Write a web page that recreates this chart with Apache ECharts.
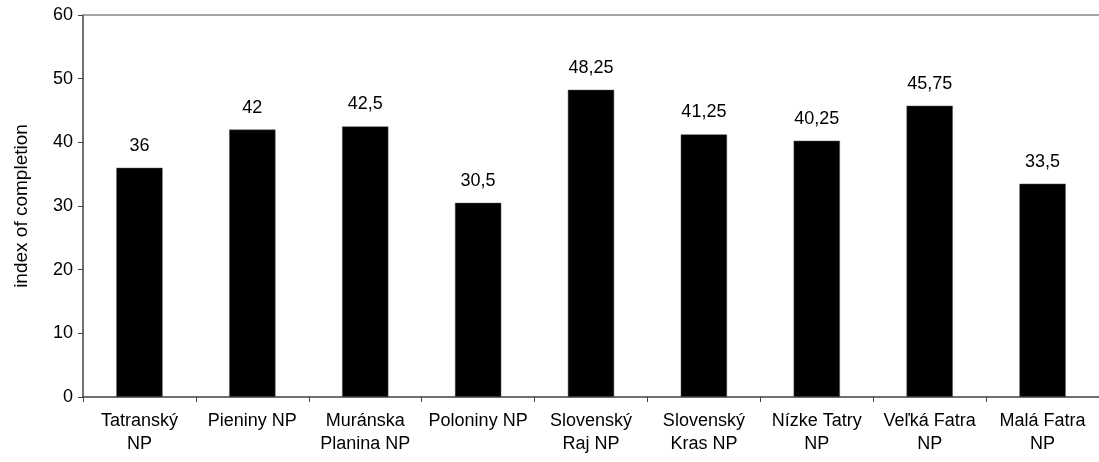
<!DOCTYPE html>
<html><head><meta charset="utf-8">
<script src="https://cdn.jsdelivr.net/npm/echarts@6/dist/echarts.min.js"></script>
<style>html,body{margin:0;padding:0;background:#fff}#c{width:1099px;height:462px}</style>
</head><body><div id="c"></div>
<script>
const categories = ["Tatranský\nNP","Pieniny NP","Muránska\nPlanina NP","Poloniny NP","Slovenský\nRaj NP","Slovenský\nKras NP","Nízke Tatry\nNP","Veľká Fatra\nNP","Malá Fatra\nNP"];
const values = [36, 42, 42.5, 30.5, 48.25, 41.25, 40.25, 45.75, 33.5];
const yTicks = [0, 10, 20, 30, 40, 50, 60];

const chart = echarts.init(document.getElementById('c'), null, {renderer:'canvas'});
const font = 'Liberation Sans, Arial, sans-serif';
chart.setOption({
  animation:false,
  grid:{left:83, right:0, top:15, bottom:65, containLabel:false, outerBoundsMode:'none'},
  xAxis:{type:'category', data:categories,
    axisLine:{lineStyle:{color:'#404040', width:1.5}},
    axisTick:{show:true, alignWithLabel:false, length:5, lineStyle:{color:'#404040'}},
    axisLabel:{color:'#000', fontFamily:font, fontSize:18, lineHeight:23, margin:13, interval:0}
  },
  yAxis:{type:'value', min:yTicks[0], max:yTicks[yTicks.length-1], interval:10,
    name:'index of completion', nameLocation:'middle', nameGap:52, nameRotate:90,
    nameTextStyle:{color:'#000', fontFamily:font, fontSize:19},
    axisLine:{show:true, lineStyle:{color:'#404040', width:1.5}},
    axisTick:{show:true, length:5, lineStyle:{color:'#404040'}},
    splitLine:{show:false},
    axisLabel:{color:'#000', fontFamily:font, fontSize:18, margin:10}
  },
  series:[{type:'bar', data:values, barWidth:'41%', itemStyle:{color:'#000', borderColor:'#555', borderWidth:0.5},
    label:{show:true, position:'top', distance:13, color:'#000', fontFamily:font, fontSize:18,
      formatter:p=>String(p.value).replace('.', ',')},
    markLine:{silent:true, symbol:'none', label:{show:false},
      lineStyle:{color:'#888', type:'solid', width:1.5}, data:[{yAxis:yTicks[yTicks.length-1]}]}
  }]
});
</script></body></html>
